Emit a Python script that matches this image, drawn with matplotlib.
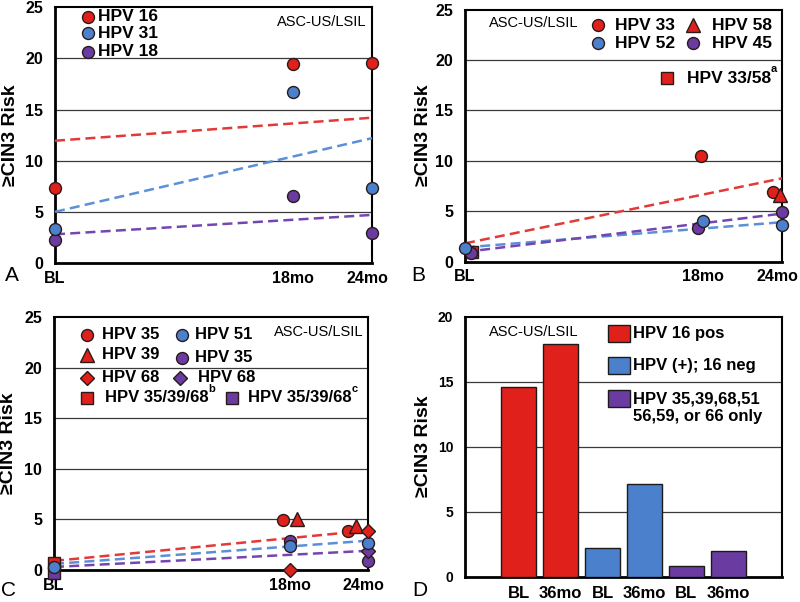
import matplotlib
matplotlib.use("Agg")
import matplotlib.pyplot as plt
from matplotlib.patches import Rectangle
from matplotlib.transforms import ScaledTranslation

plt.rcParams['font.family'] = ['Liberation Sans', 'DejaVu Sans']

# ---------------- data ----------------
time_ticks = [0, 18, 24]
time_labels = ['BL', '18mo', '24mo']
trend_x = [0, 24]
subset_label = 'ASC-US/LSIL'
ylabel_text = '\u2265CIN3 Risk'

# Panel A
a_hpv16_x = [0, 18, 24]
a_hpv16_y = [7.3, 19.45, 19.5]
a_hpv31_x = [0, 18, 24]
a_hpv31_y = [3.3, 16.75, 7.3]
a_hpv18_x = [0, 18, 24]
a_hpv18_y = [2.2, 6.5, 2.95]
a_trend_red = [11.95, 14.2]
a_trend_blue = [5.0, 12.2]
a_trend_purple = [2.8, 4.7]

# Panel B
b_hpv3358_x = [0.53]
b_hpv3358_y = [0.95]
b_hpv45_x = [0.43, 17.65, 24]
b_hpv45_y = [0.8, 3.3, 4.9]
b_hpv52_x = [0, 18, 24]
b_hpv52_y = [1.3, 4.0, 3.6]
b_hpv33_x = [17.9, 23.3]
b_hpv33_y = [10.45, 6.9]
b_hpv58_x = [23.85]
b_hpv58_y = [6.6]
b_trend_red = [1.8, 8.25]
b_trend_blue = [1.4, 3.9]
b_trend_purple = [0.95, 4.75]

# Panel C
c_sq_purple_x = [0]
c_sq_purple_y = [-0.3]
c_sq_red_x = [0]
c_sq_red_y = [0.7]
c_hpv35r_x = [17.5, 22.5]
c_hpv35r_y = [4.9, 3.85]
c_hpv39_x = [18.6, 23.1]
c_hpv39_y = [5.0, 4.3]
c_hpv68r_x = [18, 24]
c_hpv68r_y = [0.0, 3.85]
c_hpv35p_x = [18, 24]
c_hpv35p_y = [2.9, 0.9]
c_hpv68p_x = [24]
c_hpv68p_y = [1.9]
c_hpv51_x = [0, 18, 24]
c_hpv51_y = [0.3, 2.4, 2.7]
c_trend_red = [0.9, 3.9]
c_trend_blue = [0.6, 2.9]
c_trend_purple = [0.3, 1.9]

# Panel D
d_labels = ['BL', '36mo', 'BL', '36mo', 'BL', '36mo']
d_values = [14.57, 17.88, 2.23, 7.1, 0.77, 2.0]
d_groups = ['HPV 16 pos', 'HPV (+); 16 neg', 'HPV 35,39,68,51\n56,59, or 66 only']

# ---------------- style ----------------
RED = '#E0201B'
BLUE = '#4A80CC'
PURPLE = '#6A3BA0'
RED_L = '#E23A36'
BLUE_L = '#5B8FD8'
PURPLE_L = '#7446B2'
EDGE = '#2a1a1a'
MS = 8.6

fig = plt.figure(figsize=(8, 6.02), dpi=100)


def px_axes(l, r, t, b):
    W, H = 800, 602
    return fig.add_axes([l / W, (H - b) / H, (r - l) / W, (b - t) / H])


def style_time_axes(ax, ylab_x):
    ax.set_xlim(0, 24)
    ax.set_ylim(0, 25)
    ax.set_yticks([0, 5, 10, 15, 20, 25])
    ax.set_xticks(time_ticks)
    ax.set_xticklabels(time_labels)
    for y in [5, 10, 15, 20]:
        ax.axhline(y, color='#3a3a3a', lw=0.9, zorder=1)
    common_style(ax, ylab_x)
    last = ax.get_xticklabels()[-1]
    last.set_transform(last.get_transform() +
                       ScaledTranslation(-0.05, 0, fig.dpi_scale_trans))


def common_style(ax, ylab_x):
    ax.tick_params(axis='both', length=0, labelsize=11.5)
    ax.tick_params(axis='y', pad=8.5)
    ax.tick_params(axis='x', pad=5.5)
    for lab in ax.get_xticklabels() + ax.get_yticklabels():
        lab.set_fontweight('bold')
    for s in ['left', 'bottom']:
        ax.spines[s].set_linewidth(2.0)
    for s in ['top', 'right']:
        ax.spines[s].set_linewidth(1.5)
    ax.set_ylabel(ylabel_text, fontsize=14, fontweight='bold')
    ax.yaxis.set_label_coords(ylab_x, 0.5)


def trend(ax, ys, color):
    ax.plot(trend_x, ys, color=color, lw=1.8, dashes=(4, 2.1), zorder=3,
            clip_on=False)


def pts(ax, x, y, color, marker='o', ms=MS):
    ax.plot(x, y, linestyle='none', marker=marker, color=color, ms=ms,
            markeredgecolor=EDGE, markeredgewidth=1.0, zorder=6, clip_on=False)


def leg(ax, x, y, color, marker, ms=MS, text=None, tx=None, fs=12.5, sup=None):
    ax.plot([x], [y], transform=ax.transAxes, linestyle='none', marker=marker,
            color=color, ms=ms, markeredgecolor=EDGE, markeredgewidth=1.0,
            zorder=7, clip_on=False)
    if text is not None:
        t = ax.text(tx, y, text, transform=ax.transAxes, fontsize=fs,
                    fontweight='bold', va='center', ha='left', zorder=7)
        if sup is not None:
            ax.annotate(sup, xy=(1.0, 0.75), xycoords=t, fontsize=8,
                        fontweight='bold', ha='left', va='bottom', zorder=7)


# ---------------- Panel A ----------------
axA = px_axes(55, 372, 7.2, 263)
style_time_axes(axA, -0.115)
trend(axA, a_trend_red, RED_L)
trend(axA, a_trend_blue, BLUE_L)
trend(axA, a_trend_purple, PURPLE_L)
pts(axA, a_hpv18_x, a_hpv18_y, PURPLE)
pts(axA, a_hpv31_x, a_hpv31_y, BLUE)
pts(axA, a_hpv16_x, a_hpv16_y, RED)
leg(axA, 0.104, 0.962, RED, 'o', text='HPV 16', tx=0.136)
leg(axA, 0.104, 0.899, BLUE, 'o', text='HPV 31', tx=0.136)
leg(axA, 0.104, 0.825, PURPLE, 'o', text='HPV 18', tx=0.136)
axA.text(0.984, 0.942, subset_label, transform=axA.transAxes, fontsize=10.5,
         ha='right', va='center')

# ---------------- Panel B ----------------
axB = px_axes(465, 782, 9.5, 261.5)
style_time_axes(axB, -0.104)
trend(axB, b_trend_red, RED_L)
trend(axB, b_trend_blue, BLUE_L)
trend(axB, b_trend_purple, PURPLE_L)
pts(axB, b_hpv3358_x, b_hpv3358_y, RED, 's', 8)
pts(axB, b_hpv45_x, b_hpv45_y, PURPLE)
pts(axB, b_hpv52_x, b_hpv52_y, BLUE)
pts(axB, b_hpv33_x, b_hpv33_y, RED)
pts(axB, b_hpv58_x, b_hpv58_y, RED, '^', 10)
leg(axB, 0.42, 0.938, RED, 'o', text='HPV 33', tx=0.473)
leg(axB, 0.42, 0.866, BLUE, 'o', text='HPV 52', tx=0.473)
leg(axB, 0.719, 0.938, RED, '^', ms=10, text='HPV 58', tx=0.779)
leg(axB, 0.719, 0.866, PURPLE, 'o', text='HPV 45', tx=0.779)
leg(axB, 0.637, 0.728, RED, 's', ms=8, text='HPV 33/58', tx=0.700, sup='a')
axB.text(0.076, 0.946, subset_label, transform=axB.transAxes, fontsize=10.5,
         ha='left', va='center')

# ---------------- Panel C ----------------
axC = px_axes(54, 368, 317, 570)
style_time_axes(axC, -0.118)
trend(axC, c_trend_red, RED_L)
trend(axC, c_trend_blue, BLUE_L)
trend(axC, c_trend_purple, PURPLE_L)
pts(axC, c_sq_purple_x, c_sq_purple_y, PURPLE, 's', 8)
pts(axC, c_sq_red_x, c_sq_red_y, RED, 's', 8)
pts(axC, c_hpv35p_x, c_hpv35p_y, PURPLE)
pts(axC, c_hpv68p_x, c_hpv68p_y, PURPLE, 'D', 7.5)
pts(axC, c_hpv51_x, c_hpv51_y, BLUE)
pts(axC, c_hpv35r_x, c_hpv35r_y, RED)
pts(axC, c_hpv39_x, c_hpv39_y, RED, '^', 10)
pts(axC, c_hpv68r_x, c_hpv68r_y, RED, 'D', 7.5)
fsC = 12
leg(axC, 0.105, 0.929, RED, 'o', text='HPV 35', tx=0.153, fs=fsC)
leg(axC, 0.408, 0.929, BLUE, 'o', text='HPV 51', tx=0.449, fs=fsC)
leg(axC, 0.105, 0.850, RED, '^', ms=10, text='HPV 39', tx=0.153, fs=fsC)
leg(axC, 0.408, 0.838, PURPLE, 'o', text='HPV 35', tx=0.449, fs=fsC)
leg(axC, 0.105, 0.759, RED, 'D', ms=7.5, text='HPV 68', tx=0.153, fs=fsC)
leg(axC, 0.401, 0.759, PURPLE, 'D', ms=7.5, text='HPV 68', tx=0.459, fs=fsC)
leg(axC, 0.105, 0.680, RED, 's', ms=8, text='HPV 35/39/68', tx=0.162, fs=fsC, sup='b')
leg(axC, 0.567, 0.680, PURPLE, 's', ms=8, text='HPV 35/39/68', tx=0.618, fs=fsC, sup='c')
axC.text(0.984, 0.941, subset_label, transform=axC.transAxes, fontsize=10.5,
         ha='right', va='center')

# ---------------- Panel D ----------------
axD = px_axes(465, 782, 316.7, 576.5)
d_pos = list(range(len(d_values)))
d_colors = [RED, RED, BLUE, BLUE, PURPLE, PURPLE]
for y in [5, 10, 15]:
    axD.axhline(y, color='#3a3a3a', lw=0.9, zorder=1)
axD.bar(d_pos, d_values, width=0.82, color=d_colors, edgecolor='#1a1a1a',
        linewidth=1.0, zorder=3)
axD.set_xlim(-1.28, 6.28)
axD.set_ylim(0, 20)
axD.set_yticks([0, 5, 10, 15, 20])
axD.set_xticks(d_pos)
axD.set_xticklabels(d_labels)
common_style(axD, -0.104)
axD.tick_params(axis='y', labelsize=10)
axD.tick_params(axis='x', labelsize=12, pad=7)
for lab in axD.get_xticklabels() + axD.get_yticklabels():
    lab.set_fontweight('bold')
d_leg_colors = [RED, BLUE, PURPLE]
d_rect_y = [0.937, 0.814, 0.687]
d_text_y = [0.937, 0.814, 0.6486]
for c, ry, ty, lbl in zip(d_leg_colors, d_rect_y, d_text_y, d_groups):
    axD.add_patch(Rectangle((0.451, ry - 0.0327), 0.0694, 0.0654,
                            transform=axD.transAxes, facecolor=c,
                            edgecolor='#1a1a1a', lw=1.0, zorder=6))
    axD.text(0.530, ty, lbl, transform=axD.transAxes, fontsize=12,
             fontweight='bold', ha='left', va='center',
             linespacing=1.2, zorder=6)
axD.text(0.076, 0.941, subset_label, transform=axD.transAxes, fontsize=10.5,
         ha='left', va='center')

# panel letters
for letter, (x, y) in zip('ABCD', [(12, 275), (418, 275), (8, 590), (420, 590)]):
    fig.text(x / 800, 1 - y / 602, letter, fontsize=15, ha='center', va='center')

fig.savefig('out.png', dpi=100)
